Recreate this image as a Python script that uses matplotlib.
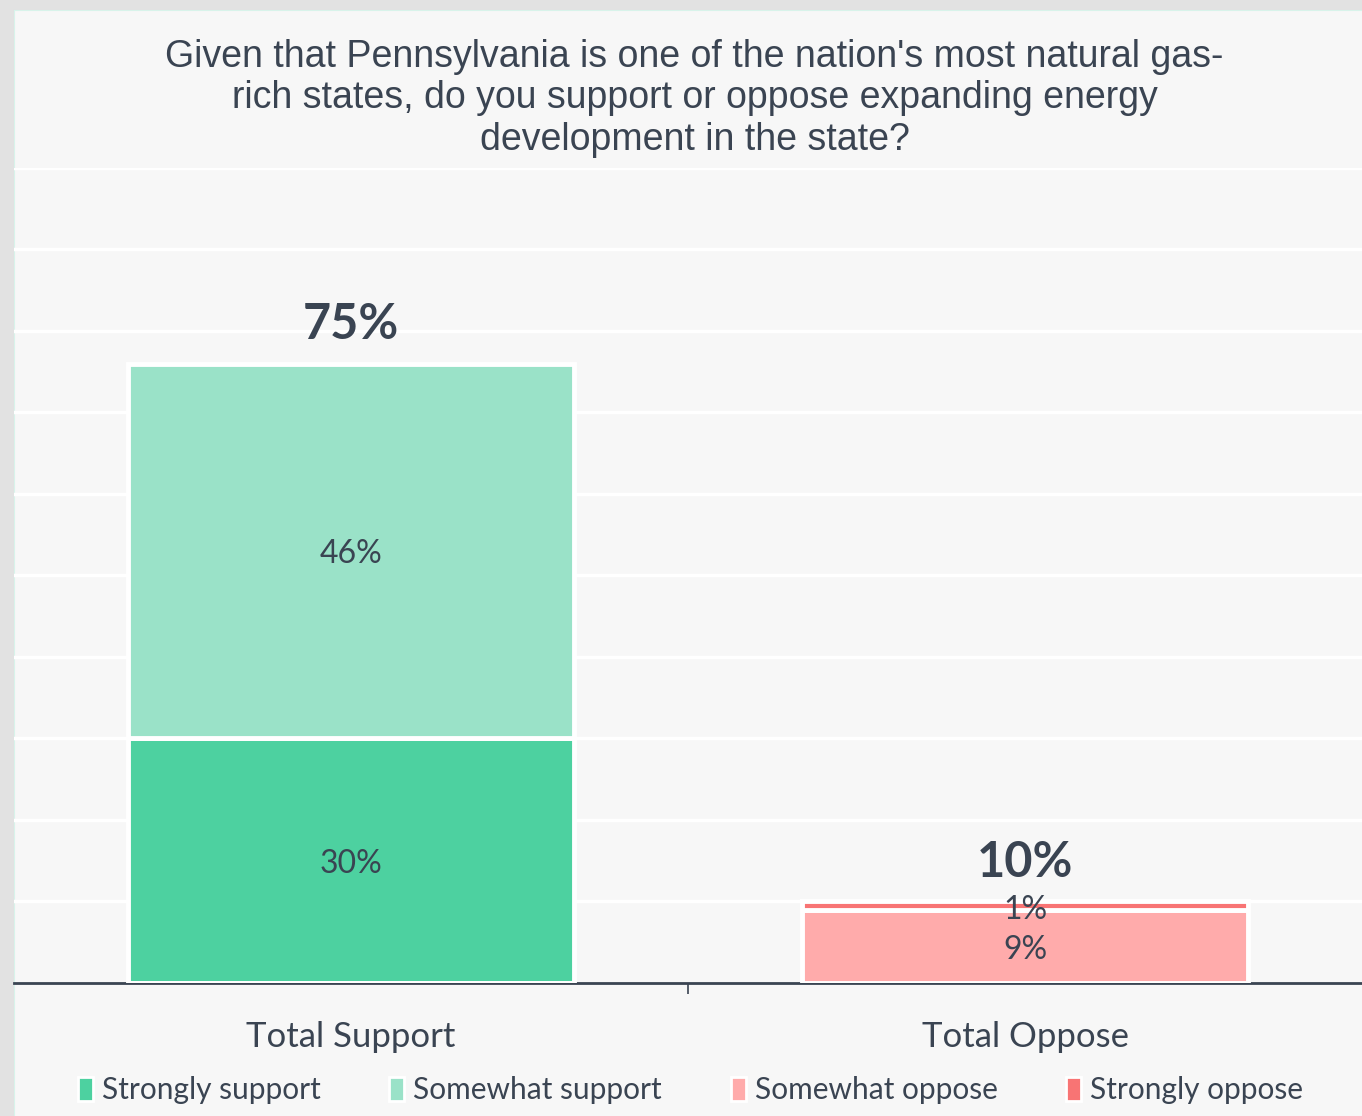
import matplotlib.pyplot as plt
import numpy as np
from matplotlib.patches import Patch

# survey results, percent
categories = ["Total Support", "Total Oppose"]
totals = [75, 10]
strongly_support = [30, 0]
somewhat_support = [46, 0]
somewhat_oppose = [0, 9]
strongly_oppose = [0, 1]

legend_labels = ["Strongly support", "Somewhat support", "Somewhat oppose", "Strongly oppose"]
colors = ["#4dd1a0", "#9ae2c8", "#ffabab", "#f87474"]
text_color = "#3a4452"
bg = "#f7f7f7"

title = ("Given that Pennsylvania is one of the nation's most natural gas-\n"
         "rich states, do you support or oppose expanding energy\n"
         "development in the state?")

fig = plt.figure(figsize=(13.62, 11.16), dpi=100, facecolor="#e2e2e2")
# light panel behind the chart
panel = fig.add_axes([0.0103, 0, 0.9897, 0.9910])
panel.set_facecolor(bg)
for s in panel.spines.values():
    s.set_visible(False)
panel.spines["left"].set_visible(True)
panel.spines["top"].set_visible(True)
panel.spines["left"].set_color("#d8f3ea")
panel.spines["top"].set_color("#d8f3ea")
panel.set_xticks([])
panel.set_yticks([])

ax = fig.add_axes([0.0103, 0.1192, 0.9897, 0.7303])
ax.set_facecolor("none")
x = np.arange(len(categories))
w = 0.663

segments = [
    (strongly_support, np.zeros(2), colors[0]),
    (somewhat_support, np.array(strongly_support), colors[1]),
    (somewhat_oppose, np.zeros(2), colors[2]),
    (strongly_oppose, np.array(somewhat_oppose), colors[3]),
]
for vals, bottom, c in segments:
    vals = np.array(vals)
    ax.bar(x, vals, w, bottom=bottom, color=c, edgecolor="white", linewidth=3.5, zorder=3)

lab = dict(ha="center", va="center", color=text_color, fontsize=23, family="Lato", zorder=4)
ax.text(x[0], strongly_support[0] / 2 - 0.4, f"{strongly_support[0]}%", **lab)
ax.text(x[0], strongly_support[0] + somewhat_support[0] / 2 - 0.4, f"{somewhat_support[0]}%", **lab)
ax.text(x[1], somewhat_oppose[1] / 2 - 0.5, f"{somewhat_oppose[1]}%", **lab)
ax.text(x[1], somewhat_oppose[1] + strongly_oppose[1] - 1.1, f"{strongly_oppose[1]}%", **lab)

tops = np.array(strongly_support) + np.array(somewhat_support) + np.array(somewhat_oppose) + np.array(strongly_oppose)
for xi, top, t in zip(x, tops, totals):
    ax.text(xi, top + 4.8, f"{t}%", ha="center", va="center", color=text_color,
            fontsize=35, fontweight="bold", family="Lato", zorder=4)

ax.set_xlim(-0.5, 1.5)
ax.set_ylim(0, 100)
ax.set_yticks(np.arange(10, 101, 10))
ax.yaxis.grid(True, color="white", linewidth=2.5, zorder=0)
ax.tick_params(axis="y", left=False, labelleft=False)
ax.set_xticks([0.5])
ax.set_xticklabels([])
ax.tick_params(axis="x", length=8, width=1.2, color=text_color, direction="out")
for s in ["top", "right", "left"]:
    ax.spines[s].set_visible(False)
ax.spines["bottom"].set_color(text_color)
ax.spines["bottom"].set_linewidth(2)

for xi, c in zip(x, categories):
    ax.text(xi, -6.6, c, ha="center", va="center", color=text_color,
            fontsize=25, family="Lato")

fig.text(0.51, 0.912, title, ha="center", va="center", color=text_color,
         fontsize=27, family="Liberation Sans", linespacing=1.19)

handles = [Patch(facecolor=c, edgecolor="white", linewidth=2) for c in colors]
fig.legend(handles, legend_labels, loc="center", bbox_to_anchor=(0.507, 0.023), ncol=4,
           frameon=False, labelcolor=text_color, prop={"family": "Lato", "size": 21.5},
           handlelength=0.5, handleheight=0.9, handletextpad=0.3, columnspacing=2.3)

fig.savefig("out.png", dpi=100, facecolor=fig.get_facecolor())
